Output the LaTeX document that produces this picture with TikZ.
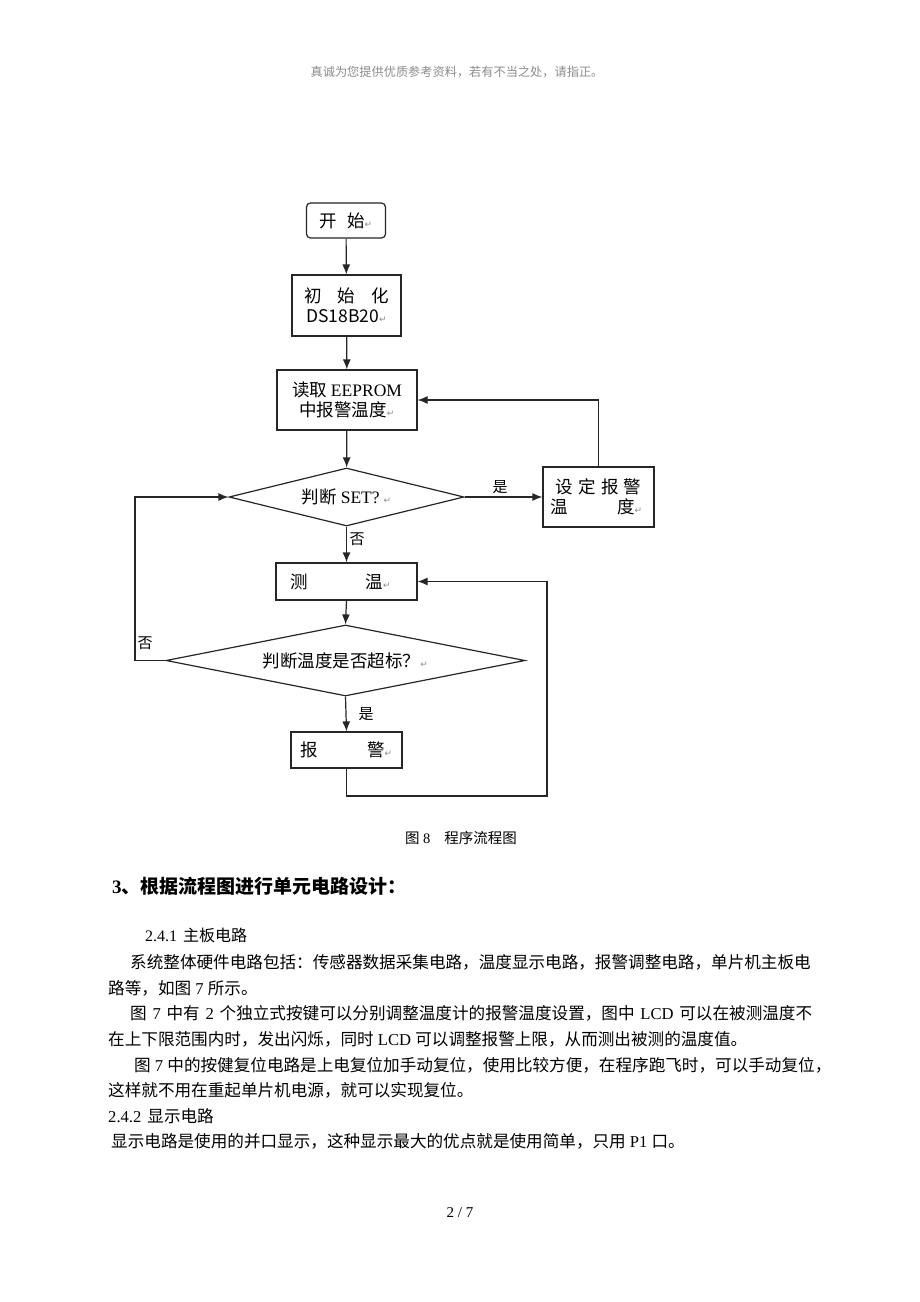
\documentclass[tikz,border=0pt]{standalone}
\usepackage{fontspec}
\setmainfont{Liberation Serif}
\newfontfamily\cjk{Noto Sans CJK SC}
\newfontfamily\symf{DejaVu Sans}
\usetikzlibrary{shapes.geometric,arrows.meta}
\newcommand\rt{{\symf\color{black!45}\fontsize{9}{9}\selectfont ↵}}
\newcommand\lat[1]{{\rmfamily #1}}
\begin{document}
\begin{tikzpicture}[x=1pt,y=-1pt,
  fc/.style={draw=black!85, line width=1.2pt, rectangle, inner sep=0pt, font=\cjk\fontsize{17.5}{22}\selectfont, align=center},
  dec/.style={fc, diamond, aspect=4},
  arr/.style={draw=black!85, line width=1.2pt, -{Latex[length=10pt,width=8pt]}},
  lbl/.style={font=\cjk\fontsize{15}{15}\selectfont, inner sep=0pt},
  body/.style={anchor=west, inner sep=0pt, font=\cjk\fontsize{16.6}{16.6}\selectfont},
]
\fill[white] (0,0) rectangle (920,1302);
\useasboundingbox (0,0) rectangle (920,1302);

% header
\node[inner sep=0pt, text=black!45, font=\cjk\fontsize{12.2}{12.2}\selectfont] (hdr) at (457,72) {真诚为您提供优质参考资料，若有不当之处，请指正。};

% flowchart
\node[fc, rounded corners=4pt, minimum width=79pt, minimum height=35pt] (start) at (346,220.5) {开\hspace{10pt}始\rt};
\node[fc, minimum width=109pt, minimum height=61pt] (init) at (346.5,305.5) {\makebox[84pt][s]{初\hfill 始\hfill 化}\\[-2pt]DS18B20\rt};
\node[fc, minimum width=140pt, minimum height=60pt] (read) at (347,400) {读取 \lat{EEPROM}\\[-2pt]中报警温度\rt};
\node[dec, minimum width=235pt, minimum height=58pt] (d1) at (346.5,497) {判断 \lat{SET?} \rt};
\node[fc, minimum width=111pt, minimum height=60pt] (set) at (598.5,497) {\makebox[86pt][s]{设\hfill 定\hfill 报\hfill 警}\\[-2pt]\makebox[96pt][l]{温\hspace{49pt}度\rt}};
\node[fc, minimum width=141pt, minimum height=37pt] (meas) at (346.5,581.5) {测\hspace{58pt}温\rt\hspace{12pt}};
\node[dec, aspect=5, minimum width=359pt, minimum height=71pt] (d2) at (345.5,660.5) {判断温度是否超标？\rt};
\node[fc, minimum width=111pt, minimum height=36pt] (alarm) at (346.5,750) {报\hspace{49pt}警\rt};

\coordinate (lp) at (135,660.5);
\coordinate (b1) at (346.5,796);
\coordinate (b2) at (547,796);

\draw[arr] (start) -- (init);
\draw[arr] (init) -- (read);
\draw[arr] (read) -- (d1);
\draw[arr] (d1.east) -- (set.west);
\draw[arr] (set.north) |- (read.east);
\draw[arr] (d1.south) -- (meas.north);
\draw[arr] (meas.south) -- (d2.north);
\draw[arr] (d2.south) -- (alarm.north);
\draw[arr] (d2.west) -- (lp) |- (d1.west);
\draw[arr] (alarm.south) -- (b1) -- (b2) |- (meas.east);

\node[lbl] (yes1) at (500,487) {是};
\node[lbl] (no1) at (357,539) {否};
\node[lbl] (no2) at (145,643) {否};
\node[lbl] (yes2) at (366,714) {是};

% caption
\node[inner sep=0pt, font=\cjk\fontsize{14.5}{14.5}\selectfont] (cap) at (461,838) {图\lat{ 8}\hspace{14pt}程序流程图};

% text
\node[anchor=west, inner sep=0pt, font=\cjk\bfseries\fontsize{19}{19}\selectfont] (h3) at (112,886) {\lat{\bfseries 3}、根据流程图进行单元电路设计：};
\node[body, font=\cjk\fontsize{16}{16}\selectfont] (s241) at (145,935) {\lat{2.4.1}\hspace{6pt}主板电路};
\node[body] (l1) at (130,962) {系统整体硬件电路包括：传感器数据采集电路，温度显示电路，报警调整电路，单片机主板电};
\node[body] (l2) at (108,988) {路等，如图\lat{ 7 }所示。};
\node[body] (l3) at (130,1013) {\makebox[682pt][s]{图\lat{ 7 }中有\lat{ 2 }个独立式按键可以分别调整温度计的报警温度设置，图中\lat{ LCD }可以在被测温度不}};
\node[body] (l4) at (108,1039) {在上下限范围内时，发出闪烁，同时\lat{ LCD }可以调整报警上限，从而测出被测的温度值。};
\node[body] (l5) at (134,1065) {图\lat{ 7 }中的按健复位电路是上电复位加手动复位，使用比较方便，在程序跑飞时，可以手动复位，};
\node[body] (l6) at (108,1090) {这样就不用在重起单片机电源，就可以实现复位。};
\node[body] (l7) at (108,1116) {\lat{2.4.2}\hspace{6pt}显示电路};
\node[body] (l8) at (111,1141) {显示电路是使用的并口显示，这种显示最大的优点就是使用简单，只用\lat{ P1 }口。};

\node[inner sep=0pt, font=\rmfamily\fontsize{15}{15}\selectfont] (pg) at (460,1213) {2 / 7};
\end{tikzpicture}
\end{document}
